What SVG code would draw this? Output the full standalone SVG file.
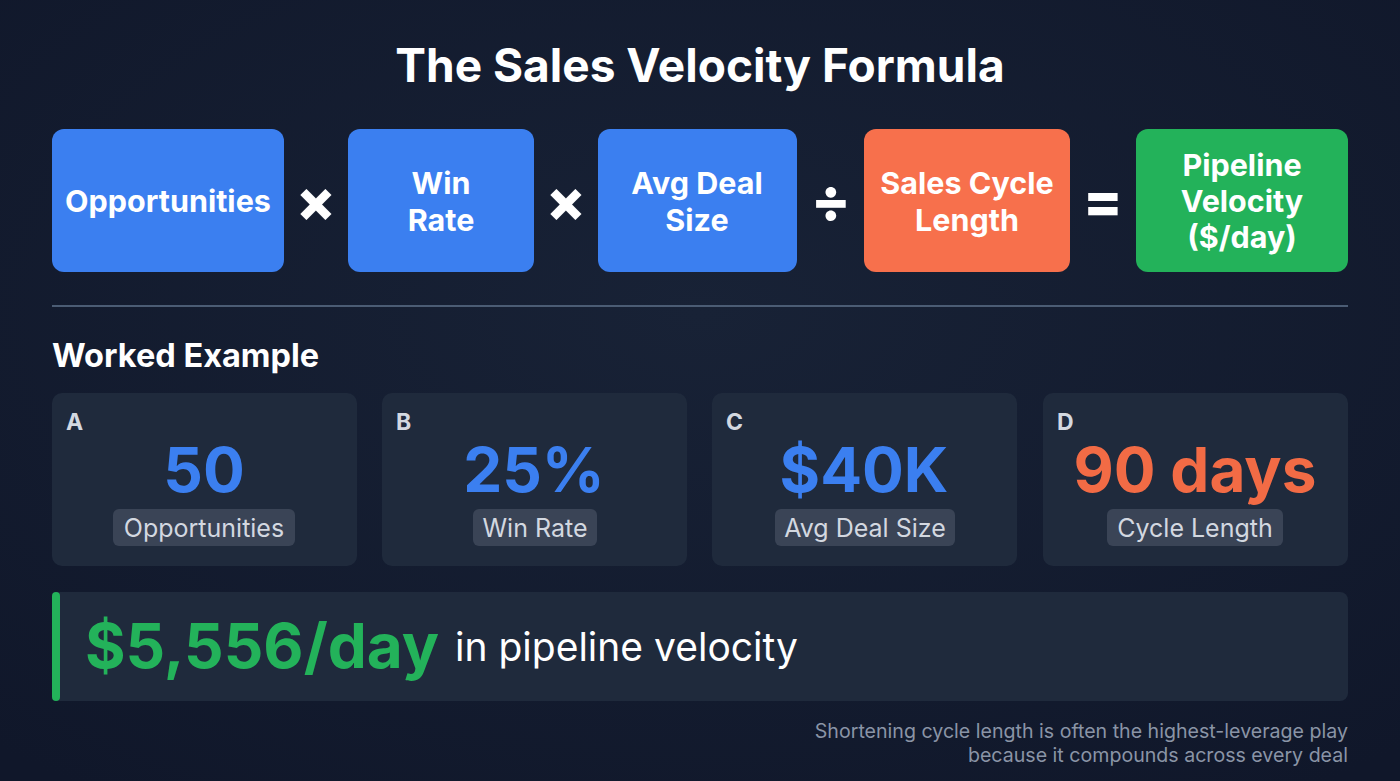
<svg xmlns="http://www.w3.org/2000/svg" width="1400" height="781" viewBox="0 0 1400 781">
<defs>
<style>
text{font-family:Inter,"Liberation Sans",Arial,sans-serif}
.bt{fill:#ffffff;font-size:30.5px;font-weight:700;text-anchor:middle}
.op{fill:#ffffff;font-size:58px;font-weight:800;text-anchor:middle}
.card{fill:#1f2a3c}
.lt{fill:#d3d8e0;font-size:23px;font-weight:700}
.val{font-size:62px;font-weight:700;text-anchor:middle}
.pill{fill:#3a4456}
.pt{fill:#d3d8e0;font-size:25px;text-anchor:middle}
.foot{fill:#8a94a6;font-size:19.6px;text-anchor:end}
</style>
<radialGradient id="bg" cx="50%" cy="40%" r="75%">
<stop offset="0" stop-color="#182236"/>
<stop offset="1" stop-color="#10172a"/>
</radialGradient>
</defs>
<rect width="1400" height="781" fill="url(#bg)"/>
<text x="700" y="82" text-anchor="middle" fill="#ffffff" font-size="46" font-weight="700">The Sales Velocity Formula</text>

<g id="node-opportunities"><rect x="52" y="129" width="232" height="143" rx="12" fill="#3b7ff0"/><text class="bt" x="168" y="212">Opportunities</text></g>
<g id="op-times1"><text class="op" x="316" y="221">×</text></g>
<g id="node-winrate"><rect x="348" y="129" width="186" height="143" rx="12" fill="#3b7ff0"/><text class="bt" x="441" y="194">Win</text><text class="bt" x="441" y="231">Rate</text></g>
<g id="op-times2"><text class="op" x="566" y="221">×</text></g>
<g id="node-dealsize"><rect x="598" y="129" width="199" height="143" rx="12" fill="#3b7ff0"/><text class="bt" x="697" y="194">Avg Deal</text><text class="bt" x="697" y="231">Size</text></g>
<g id="op-div"><text class="op" x="831" y="221">÷</text></g>
<g id="node-cycle"><rect x="864" y="129" width="206" height="143" rx="12" fill="#f7704c"/><text class="bt" x="967" y="194">Sales Cycle</text><text class="bt" x="967" y="231">Length</text></g>
<g id="op-eq"><text class="op" x="1103" y="221">=</text></g>
<g id="node-velocity"><rect x="1136" y="129" width="212" height="143" rx="12" fill="#23b25a"/><text class="bt" x="1242" y="176">Pipeline</text><text class="bt" x="1242" y="212">Velocity</text><text class="bt" x="1242" y="248">($/day)</text></g>

<line x1="52" y1="306" x2="1348" y2="306" stroke="#4b5c74" stroke-width="2"/>

<text x="52" y="367" fill="#ffffff" font-size="32.5" font-weight="700">Worked Example</text>

<g id="card-a"><rect class="card" x="52" y="393" width="305" height="173" rx="10"/><text class="lt" x="66" y="430">A</text><text class="val" x="204" y="492" fill="#3b7ff0">50</text><rect class="pill" x="113" y="509" width="182" height="37" rx="6"/><text class="pt" x="204" y="537">Opportunities</text></g>
<g id="card-b"><rect class="card" x="382" y="393" width="305" height="173" rx="10"/><text class="lt" x="396" y="430">B</text><text class="val" x="534" y="492" fill="#3b7ff0">25%</text><rect class="pill" x="473" y="509" width="124" height="37" rx="6"/><text class="pt" x="535" y="537">Win Rate</text></g>
<g id="card-c"><rect class="card" x="712" y="393" width="305" height="173" rx="10"/><text class="lt" x="726" y="430">C</text><text class="val" x="864" y="492" fill="#3b7ff0">$40K</text><rect class="pill" x="775" y="509" width="180" height="37" rx="6"/><text class="pt" x="865" y="537">Avg Deal Size</text></g>
<g id="card-d"><rect class="card" x="1043" y="393" width="305" height="173" rx="10"/><text class="lt" x="1057" y="430">D</text><text class="val" x="1195" y="492" fill="#f26b45">90 days</text><rect class="pill" x="1107" y="509" width="176" height="37" rx="6"/><text class="pt" x="1195" y="537">Cycle Length</text></g>

<g id="result"><rect class="card" x="52" y="592" width="1296" height="109" rx="8"/><rect x="52" y="592" width="8" height="109" rx="4" fill="#23b25a"/><text x="85" y="668" fill="#23b25a" font-size="62" font-weight="700">$5,556/day</text><text x="455" y="661" fill="#ffffff" font-size="39">in pipeline velocity</text></g>

<text class="foot" x="1348" y="738">Shortening cycle length is often the highest-leverage play</text>
<text class="foot" x="1348" y="762">because it compounds across every deal</text>
</svg>
